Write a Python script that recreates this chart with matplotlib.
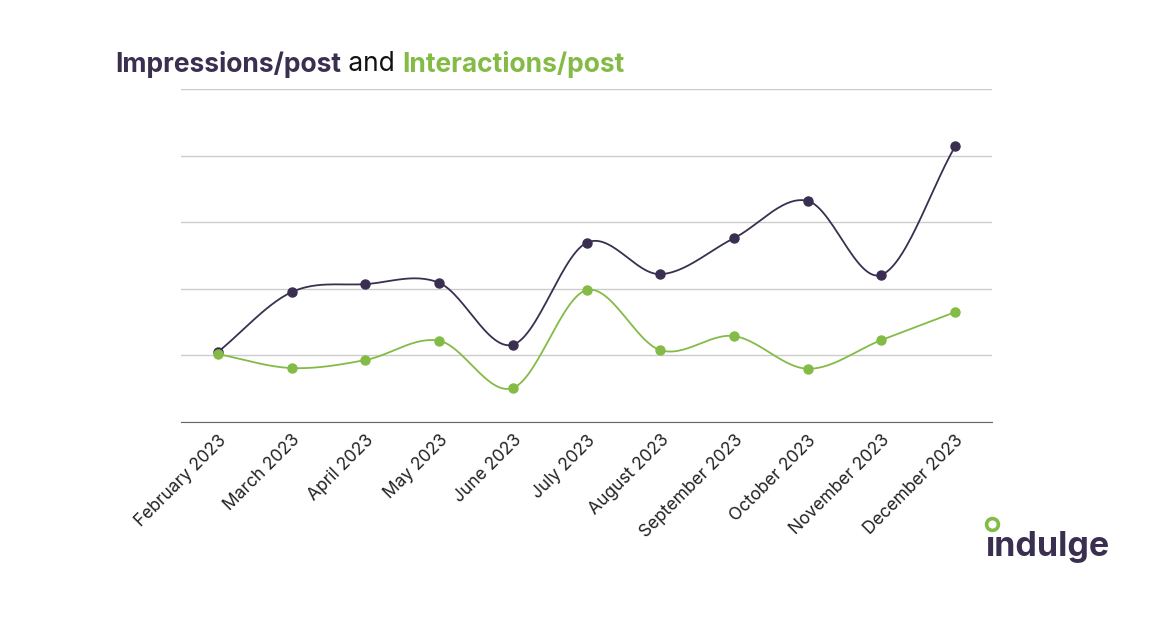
import numpy as np
import matplotlib
matplotlib.use("Agg")
import matplotlib.pyplot as plt
from matplotlib.lines import Line2D

months = ["February 2023", "March 2023", "April 2023", "May 2023", "June 2023",
          "July 2023", "August 2023", "September 2023", "October 2023",
          "November 2023", "December 2023"]
impressions = [1.05, 1.95, 2.07, 2.09, 1.16, 2.69, 2.22, 2.76, 3.32, 2.21, 4.14]
interactions = [1.02, 0.81, 0.93, 1.22, 0.51, 1.98, 1.08, 1.29, 0.80, 1.23, 1.65]

DARK = "#3a2f50"
GREEN = "#84bb47"


def smooth(x, y, n=30):
    # catmull-rom through the points, just for drawing the curve
    x = np.asarray(x, float)
    y = np.asarray(y, float)
    px = np.concatenate([[2 * x[0] - x[1]], x, [2 * x[-1] - x[-2]]])
    py = np.concatenate([[2 * y[0] - y[1]], y, [2 * y[-1] - y[-2]]])
    xs, ys = [], []
    t = np.linspace(0, 1, n)
    for i in range(1, len(px) - 2):
        for p, out in ((px, xs), (py, ys)):
            p0, p1, p2, p3 = p[i - 1], p[i], p[i + 1], p[i + 2]
            out.extend(0.5 * (2 * p1 + (-p0 + p2) * t
                              + (2 * p0 - 5 * p1 + 4 * p2 - p3) * t ** 2
                              + (-p0 + 3 * p1 - 3 * p2 + p3) * t ** 3))
    return np.array(xs), np.array(ys)


plt.rcParams["font.family"] = ["Inter", "DejaVu Sans"]
fig = plt.figure(figsize=(11.7, 6.25), dpi=100)
ax = fig.add_axes([181 / 1170, 1 - 422 / 625, (992 - 181) / 1170, (422 - 89) / 625])

x = np.arange(len(months))
for vals, col in ((impressions, DARK), (interactions, GREEN)):
    sx, sy = smooth(x, vals)
    ax.plot(sx, sy, color=col, lw=1.3, zorder=3)
    ax.plot(x, vals, "o", color=col, ms=6.5, zorder=4)

ax.set_xlim(-0.5, 10.5)
ax.set_ylim(0, 5)
ax.set_yticks(np.arange(0, 6))
ax.yaxis.grid(True, color="#cccccc", lw=1)
ax.set_axisbelow(True)
ax.tick_params(axis="y", left=False, labelleft=False)
ax.tick_params(axis="x", length=0, pad=7)
for s in ("top", "right", "left"):
    ax.spines[s].set_visible(False)
ax.spines["bottom"].set_color("#666666")
ax.set_xticks(x)
ax.set_xticklabels(months, rotation=45, ha="right", rotation_mode="anchor",
                   fontsize=12.5, color="#222222")

# title in pieces with different colours
parts = [("Impressions/post", DARK, "bold"), (" and ", "#111111", "normal"),
         ("Interactions/post", GREEN, "bold")]
r = fig.canvas.get_renderer()
xpos = 115 / 1170
for txt, col, w in parts:
    t = fig.text(xpos, 1 - 64 / 625, txt, color=col, fontsize=19, fontweight=w,
                 va="center", ha="left")
    bb = t.get_window_extent(renderer=r)
    xpos += bb.width / 1170

# logo
fig.text(986 / 1170, 1 - 556 / 625, "\u0131ndulge", color=DARK, fontsize=24.5,
         fontweight="bold", va="baseline", ha="left")
fig.add_artist(Line2D([992 / 1170], [1 - 524 / 625], transform=fig.transFigure,
                      marker="o", ms=8.5, mfc="none", mec=GREEN, mew=2.6, ls="none"))

fig.savefig("out.png", dpi=100)
